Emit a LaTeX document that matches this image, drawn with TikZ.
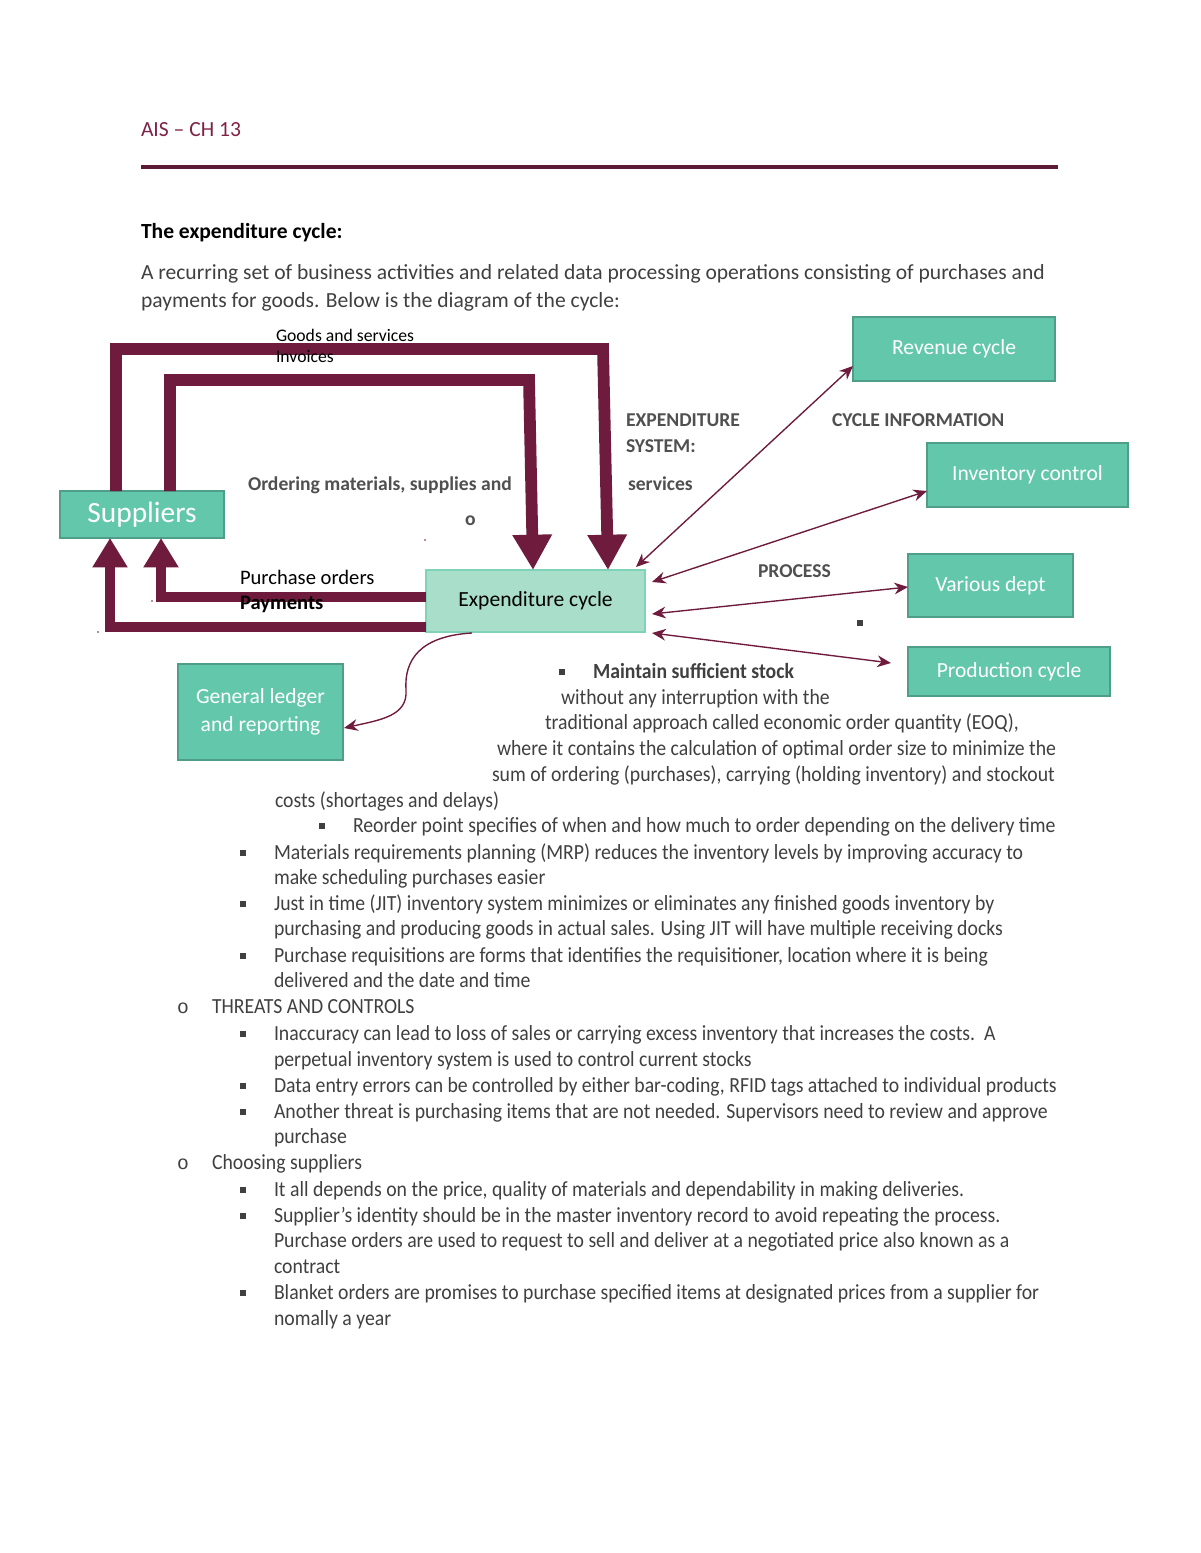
\documentclass[tikz,border=0pt]{standalone}
\usepackage{fontspec}
\setmainfont{Carlito}
\newfontfamily\cond[FakeStretch=0.915]{Carlito}
\newfontfamily\monof{Liberation Mono}
\usetikzlibrary{arrows.meta}
\definecolor{maroon}{HTML}{6E1B3D}
\definecolor{rulec}{HTML}{5B1A35}
\definecolor{headc}{HTML}{7F2346}
\definecolor{boxfill}{HTML}{63C7AC}
\definecolor{boxline}{HTML}{4E9E89}
\definecolor{expfill}{HTML}{A9DECB}
\definecolor{expline}{HTML}{7ED3B8}
\definecolor{txt}{HTML}{404040}
\definecolor{lab}{HTML}{505050}
\tikzset{
  wd/.style={minimum width=#1*0.51pt},
  ht/.style={minimum height=#1*0.51pt},
  gbox/.style={draw=boxline, line width=1.3pt, fill=boxfill, text=white, inner sep=0pt, outer sep=0pt, font=\fontsize{11}{14}\selectfont, align=center},
  ebox/.style={draw=expline, line width=0.8pt, fill=expfill, text=black, inner sep=0pt, outer sep=0pt, font=\fontsize{11}{14}\selectfont},
  t/.style={anchor=base west, inner sep=0pt, outer sep=0pt},
  body/.style={t, text=txt, font=\fontsize{11}{13}\selectfont},
  lst/.style={t, text=txt, font=\cond\fontsize{11}{13}\selectfont},
  glab/.style={t, text=lab, font=\bfseries\fontsize{10}{12}\selectfont},
  thickarr/.style={draw=maroon, line width=6pt, line join=miter, -{Triangle[width=19pt,length=18pt]}},
  medarr/.style={draw=maroon, line width=5pt, line join=miter, -{Triangle[width=17pt,length=15pt]}},
  thinarr/.style={draw=maroon, line width=0.7pt, {Stealth[length=7pt,width=6pt]}-{Stealth[length=7pt,width=6pt]}},
  sqb/.style={fill=txt, minimum size=3pt, inner sep=0pt, outer sep=0pt}
}
\begin{document}
\begin{tikzpicture}[x=0.51pt, y=-0.51pt]
\useasboundingbox (0,0) rectangle (1200,1553);
\fill[white] (0,0) rectangle (1200,1553);

% header
\node[t, text=headc, font=\fontsize{11}{13}\selectfont] (hdr) at (141,137) {AIS – CH 13};
\coordinate (rl) at (141,167);
\coordinate (rr) at (1058,167);
\draw[rulec, line width=2.1pt] (rl) -- (rr);

\node[t, font=\bfseries\fontsize{11}{13}\selectfont] (ttl) at (141,238) {The expenditure cycle:};
\node[body] (b1) at (141,279) {A recurring set of business activities and related data processing operations consisting of purchases and};
\node[body] (b2) at (141,307) {payments for goods. Below is the diagram of the cycle:};

% boxes
\node[gbox, wd=164, ht=47, font=\fontsize{15}{18}\selectfont] (sup) at (142,514.5) {Suppliers};
\node[ebox, wd=219, ht=62] (exp) at (535.5,601) {Expenditure cycle};
\node[gbox, wd=202, ht=64] (rev) at (954,349) {Revenue cycle};
\node[gbox, wd=201, ht=64] (inv) at (1027.5,475) {Inventory control};
\node[gbox, wd=165, ht=63] (var) at (990.5,585.5) {Various dept};
\node[gbox, wd=202, ht=49] (prod) at (1009,671.5) {Production cycle};
\node[gbox, wd=165, ht=96] (gl) at (260.5,712) {General ledger\\and reporting};

% thick loops
\coordinate (oa) at (116,349);
\coordinate (ob) at (603,349);
\coordinate (oc) at (608,570);
\draw[thickarr] (oa |- sup.north) -- (oa) -- (ob) -- (oc);
\coordinate (ia) at (170,380);
\coordinate (ib) at (529,380);
\coordinate (ic) at (533,570);
\draw[thickarr] (ia |- sup.north) -- (ia) -- (ib) -- (ic);

\coordinate (pa) at (161,597);
\draw[medarr] (pa -| exp.west) -- (pa) -- (pa |- sup.south);
\coordinate (qa) at (110,627);
\draw[medarr] (qa -| exp.west) -- (qa) -- (qa |- sup.south);

% thin connectors
\coordinate (r1) at (636,567);
\coordinate (r2) at (853,366);
\draw[thinarr] (r1) -- (r2);
\coordinate (i1) at (652,582);
\coordinate (i2) at (927,491);
\draw[thinarr] (i1) -- (i2);
\coordinate (v1) at (652,614);
\coordinate (v2) at (908,587);
\draw[thinarr] (v1) -- (v2);
\coordinate (p1) at (652,633);
\coordinate (p2) at (891,663);
\draw[thinarr] (p1) -- (p2);
\coordinate (g1) at (472,633);
\coordinate (g2) at (344,728);
\draw[draw=maroon, line width=0.7pt, -{Stealth[length=7pt,width=6pt]}] (g1) .. controls (420,636) and (404,660) .. (406,690) .. controls (408,716) and (380,720) .. (g2);

% diagram labels
\node[t, font=\fontsize{9}{11}\selectfont] (lg) at (276,341) {Goods and services};
\node[t, font=\fontsize{9}{11}\selectfont] (li) at (276,362) {Invoices};
\node[glab] (lo) at (248,490) {Ordering materials, supplies and};
\node[glab] (lo2) at (465,525) {o};
\node[glab] (le) at (626,426) {EXPENDITURE};
\node[glab] (ls) at (626,452) {SYSTEM:};
\node[glab] (lsv) at (628,490) {services};
\node[glab] (lc) at (832,426) {CYCLE INFORMATION};
\node[glab] (lp) at (758,577) {PROCESS};
\node[t, font=\fontsize{10.5}{12}\selectfont] (lpo) at (240,584) {Purchase orders};
\node[t, font=\bfseries\fontsize{10.5}{12}\selectfont] (lpay) at (240,609) {Payments};
\node[sqb] (d0) at (860,623) {};
\fill[maroon] (425,540) circle (0.5pt) (152,601) circle (0.5pt) (98,632) circle (0.5pt);

% list
\node[sqb] (s1) at (562,672) {};
\node[lst, font=\cond\bfseries\fontsize{11}{13}\selectfont] (m1) at (593,678) {Maintain sufficient stock};
\node[lst] (m2) at (561,704) {without any interruption with the};
\node[lst] (m3) at (545,729) {traditional approach called economic order quantity (EOQ),};
\node[lst] (m4) at (497,755) {where it contains the calculation of optimal order size to minimize the};
\node[lst] (m5) at (492,781) {sum of ordering (purchases), carrying (holding inventory) and stockout};
\node[lst] (m6) at (275,807) {costs (shortages and delays)};
\node[sqb] (s2) at (322,826) {};
\node[lst] (m7) at (353,832) {Reorder point specifies of when and how much to order depending on the delivery time};

\node[sqb] (s3) at (243,853) {};
\node[lst] (n1) at (274,859) {Materials requirements planning (MRP) reduces the inventory levels by improving accuracy to};
\node[lst] (n2) at (274,884) {make scheduling purchases easier};
\node[sqb] (s4) at (243,904) {};
\node[lst] (n3) at (274,910) {Just in time (JIT) inventory system minimizes or eliminates any finished goods inventory by};
\node[lst] (n4) at (274,935) {purchasing and producing goods in actual sales. Using JIT will have multiple receiving docks};
\node[sqb] (s5) at (243,956) {};
\node[lst] (n5) at (274,962) {Purchase requisitions are forms that identifies the requisitioner, location where it is being};
\node[lst] (n6) at (274,987) {delivered and the date and time};

\node[t, text=txt, font=\monof\fontsize{10}{12}\selectfont] (o1) at (177,1013) {o};
\node[lst] (h1) at (212,1013) {THREATS AND CONTROLS};
\node[sqb] (s6) at (243,1034) {};
\node[lst] (k1) at (274,1040) {Inaccuracy can lead to loss of sales or carrying excess inventory that increases the costs.\ \ A};
\node[lst] (k2) at (274,1066) {perpetual inventory system is used to control current stocks};
\node[sqb] (s7) at (243,1086) {};
\node[lst] (k3) at (274,1092) {Data entry errors can be controlled by either bar-coding, RFID tags attached to individual products};
\node[sqb] (s8) at (243,1112) {};
\node[lst] (k4) at (274,1118) {Another threat is purchasing items that are not needed. Supervisors need to review and approve};
\node[lst] (k5) at (274,1143) {purchase};

\node[t, text=txt, font=\monof\fontsize{10}{12}\selectfont] (o2) at (177,1169) {o};
\node[lst] (h2) at (212,1169) {Choosing suppliers};
\node[sqb] (s9) at (243,1190) {};
\node[lst] (c1) at (274,1196) {It all depends on the price, quality of materials and dependability in making deliveries.};
\node[sqb] (s10) at (243,1216) {};
\node[lst] (c2) at (274,1222) {Supplier’s identity should be in the master inventory record to avoid repeating the process.};
\node[lst] (c3) at (274,1247) {Purchase orders are used to request to sell and deliver at a negotiated price also known as a};
\node[lst] (c4) at (274,1273) {contract};
\node[sqb] (s11) at (243,1293) {};
\node[lst] (c5) at (274,1299) {Blanket orders are promises to purchase specified items at designated prices from a supplier for};
\node[lst] (c6) at (274,1325) {nomally a year};
\end{tikzpicture}
\end{document}
